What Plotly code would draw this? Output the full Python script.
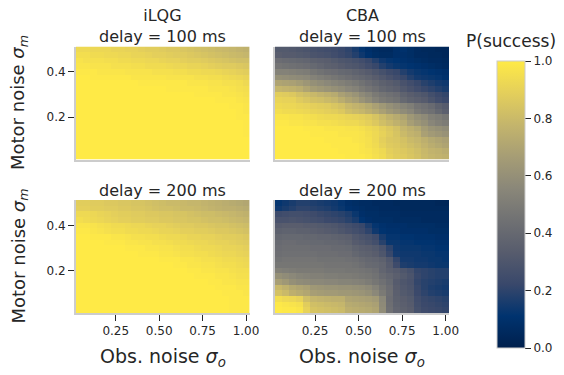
import numpy as np
import plotly.graph_objects as go

# ---------------- data (P(success), rows listed from top: motor noise 0.5 -> 0.025) ----------------
obs_noise = np.round(np.arange(1, 26) * 0.04, 3)          # 25 columns, 0.04 .. 1.00
motor_noise = np.round(np.arange(20, 0, -1) * 0.025, 4)   # 20 rows, 0.500 .. 0.025 (top -> bottom)

ilqg_100 = [
    [93, 93, 92, 92, 92, 91, 91, 90, 90, 89, 88, 88, 87, 86, 86, 85, 84, 83, 82, 81, 80, 79, 78, 77, 76],
    [95, 95, 94, 94, 93, 93, 92, 92, 91, 91, 90, 89, 89, 88, 87, 87, 86, 85, 84, 83, 82, 81, 80, 79, 78],
    [97, 96, 96, 96, 95, 95, 94, 94, 93, 93, 92, 92, 91, 90, 90, 89, 88, 88, 87, 86, 85, 84, 83, 82, 82],
    [98, 98, 97, 97, 97, 96, 96, 96, 95, 95, 94, 94, 94, 93, 92, 92, 91, 91, 90, 89, 88, 87, 87, 86, 85],
    [99, 99, 99, 98, 98, 98, 98, 97, 97, 97, 97, 96, 96, 96, 95, 95, 94, 94, 93, 93, 92, 91, 90, 89, 88],
    [100, 100, 99, 99, 99, 99, 99, 99, 98, 98, 98, 98, 98, 97, 97, 97, 97, 96, 96, 95, 95, 94, 93, 92, 91],
    [100, 100, 100, 100, 100, 100, 100, 100, 100, 99, 99, 99, 99, 99, 99, 99, 98, 98, 98, 97, 97, 96, 96, 95, 93],
    [100, 100, 100, 100, 100, 100, 100, 100, 100, 100, 100, 100, 100, 99, 99, 99, 99, 99, 99, 98, 98, 98, 97, 96, 95],
    [100, 100, 100, 100, 100, 100, 100, 100, 100, 100, 100, 100, 100, 100, 100, 100, 100, 99, 99, 99, 99, 98, 98, 97, 96],
    [100, 100, 100, 100, 100, 100, 100, 100, 100, 100, 100, 100, 100, 100, 100, 100, 100, 100, 100, 100, 99, 99, 99, 98, 97],
    [100, 100, 100, 100, 100, 100, 100, 100, 100, 100, 100, 100, 100, 100, 100, 100, 100, 100, 100, 100, 100, 100, 99, 99, 98],
    [100, 100, 100, 100, 100, 100, 100, 100, 100, 100, 100, 100, 100, 100, 100, 100, 100, 100, 100, 100, 100, 100, 100, 99, 98],
    [100, 100, 100, 100, 100, 100, 100, 100, 100, 100, 100, 100, 100, 100, 100, 100, 100, 100, 100, 100, 100, 100, 100, 99, 99],
    [100, 100, 100, 100, 100, 100, 100, 100, 100, 100, 100, 100, 100, 100, 100, 100, 100, 100, 100, 100, 100, 100, 100, 100, 99],
    [100, 100, 100, 100, 100, 100, 100, 100, 100, 100, 100, 100, 100, 100, 100, 100, 100, 100, 100, 100, 100, 100, 100, 100, 99],
    [100, 100, 100, 100, 100, 100, 100, 100, 100, 100, 100, 100, 100, 100, 100, 100, 100, 100, 100, 100, 100, 100, 100, 100, 99],
    [100, 100, 100, 100, 100, 100, 100, 100, 100, 100, 100, 100, 100, 100, 100, 100, 100, 100, 100, 100, 100, 100, 100, 100, 100],
    [100, 100, 100, 100, 100, 100, 100, 100, 100, 100, 100, 100, 100, 100, 100, 100, 100, 100, 100, 100, 100, 100, 100, 100, 100],
    [100, 100, 100, 100, 100, 100, 100, 100, 100, 100, 100, 100, 100, 100, 100, 100, 100, 100, 100, 100, 100, 100, 100, 100, 100],
    [100, 100, 100, 100, 100, 100, 100, 100, 100, 100, 100, 100, 100, 100, 100, 100, 100, 100, 100, 100, 100, 100, 100, 100, 100],
]

cba_100 = [
    [32, 32, 31, 30, 29, 27, 26, 25, 24, 22, 20, 16, 12, 9, 7, 6, 6, 9, 10, 8, 6, 5, 5, 4, 4],
    [34, 33, 33, 32, 31, 29, 28, 27, 25, 23, 21, 18, 14, 10, 8, 7, 7, 9, 9, 8, 6, 6, 5, 5, 4],
    [42, 41, 40, 39, 38, 36, 35, 34, 32, 30, 29, 27, 25, 22, 18, 14, 12, 11, 10, 9, 8, 7, 6, 6, 5],
    [46, 45, 44, 43, 42, 40, 38, 36, 35, 33, 31, 30, 28, 25, 22, 18, 15, 13, 12, 11, 10, 9, 8, 7, 6],
    [53, 53, 52, 51, 50, 47, 45, 43, 42, 40, 39, 37, 35, 33, 30, 27, 24, 22, 18, 15, 13, 12, 11, 10, 9],
    [60, 59, 58, 57, 56, 53, 51, 49, 47, 45, 43, 41, 39, 37, 34, 31, 28, 25, 22, 18, 15, 14, 13, 12, 10],
    [70, 69, 68, 66, 63, 60, 58, 56, 54, 52, 50, 48, 45, 42, 39, 36, 34, 32, 28, 25, 22, 19, 17, 15, 14],
    [78, 77, 76, 74, 70, 66, 64, 62, 60, 58, 55, 53, 49, 46, 43, 39, 37, 35, 31, 28, 25, 22, 20, 18, 16],
    [88, 87, 86, 83, 81, 79, 77, 75, 73, 68, 65, 62, 57, 54, 49, 46, 44, 42, 37, 34, 32, 30, 26, 23, 21],
    [91, 90, 90, 87, 85, 83, 82, 80, 78, 74, 70, 67, 62, 58, 53, 49, 47, 45, 40, 37, 35, 33, 29, 25, 23],
    [93, 92, 92, 91, 90, 89, 88, 87, 85, 83, 79, 77, 75, 72, 68, 64, 60, 57, 54, 51, 46, 44, 41, 36, 33],
    [95, 94, 94, 93, 92, 91, 90, 89, 88, 86, 82, 80, 78, 75, 72, 68, 64, 61, 58, 55, 49, 46, 44, 39, 35],
    [98, 98, 97, 97, 96, 95, 94, 93, 93, 92, 91, 90, 89, 87, 84, 80, 76, 73, 70, 64, 60, 57, 52, 50, 47],
    [99, 99, 98, 98, 97, 97, 96, 96, 95, 94, 93, 93, 91, 89, 86, 82, 79, 76, 73, 67, 63, 60, 55, 52, 50],
    [100, 100, 100, 100, 99, 99, 99, 98, 98, 98, 97, 97, 96, 94, 92, 89, 86, 83, 78, 75, 72, 66, 62, 60, 58],
    [100, 100, 100, 100, 100, 99, 99, 99, 99, 98, 98, 98, 97, 95, 93, 90, 87, 84, 80, 77, 75, 68, 65, 63, 61],
    [100, 100, 100, 100, 100, 100, 100, 99, 99, 99, 99, 98, 97, 96, 93, 89, 86, 85, 83, 80, 78, 75, 72, 70, 68],
    [100, 100, 100, 100, 100, 100, 100, 100, 99, 99, 99, 99, 98, 96, 94, 90, 87, 86, 84, 82, 80, 77, 74, 72, 70],
    [100, 100, 100, 100, 100, 100, 100, 100, 100, 99, 99, 99, 98, 97, 95, 93, 89, 87, 86, 84, 82, 79, 77, 76, 74],
    [100, 100, 100, 100, 100, 100, 100, 100, 100, 100, 99, 99, 99, 98, 96, 94, 90, 88, 87, 85, 83, 80, 78, 77, 76],
]

ilqg_200 = [
    [88, 88, 87, 87, 86, 86, 85, 85, 84, 84, 83, 82, 81, 80, 80, 79, 78, 78, 77, 76, 75, 74, 73, 72, 71],
    [89, 89, 88, 88, 87, 87, 86, 86, 85, 85, 84, 83, 82, 82, 81, 80, 80, 79, 78, 77, 76, 75, 75, 74, 73],
    [93, 93, 92, 91, 90, 89, 88, 88, 87, 87, 86, 86, 85, 85, 84, 84, 83, 82, 81, 81, 80, 79, 78, 77, 76],
    [95, 94, 93, 92, 91, 90, 89, 89, 88, 88, 87, 87, 86, 86, 85, 85, 84, 84, 83, 82, 82, 81, 80, 79, 78],
    [98, 98, 97, 96, 95, 94, 94, 93, 92, 92, 91, 90, 90, 89, 88, 87, 87, 86, 86, 85, 84, 84, 83, 82, 81],
    [99, 99, 98, 97, 96, 95, 95, 94, 94, 93, 93, 92, 91, 91, 90, 89, 89, 88, 88, 87, 86, 86, 85, 84, 83],
    [100, 100, 99, 99, 99, 98, 98, 97, 96, 96, 95, 95, 94, 93, 93, 92, 91, 91, 90, 90, 89, 88, 88, 87, 86],
    [100, 100, 100, 100, 99, 99, 99, 98, 98, 97, 97, 96, 96, 95, 94, 94, 93, 92, 92, 91, 90, 90, 89, 88, 87],
    [100, 100, 100, 100, 100, 100, 100, 99, 99, 99, 98, 98, 97, 97, 96, 95, 95, 94, 93, 93, 92, 91, 91, 90, 89],
    [100, 100, 100, 100, 100, 100, 100, 100, 100, 99, 99, 99, 98, 98, 97, 96, 96, 95, 95, 94, 93, 92, 92, 91, 90],
    [100, 100, 100, 100, 100, 100, 100, 100, 100, 100, 100, 100, 99, 99, 99, 98, 98, 97, 96, 96, 95, 94, 94, 93, 92],
    [100, 100, 100, 100, 100, 100, 100, 100, 100, 100, 100, 100, 100, 100, 99, 99, 98, 98, 97, 97, 96, 95, 95, 94, 93],
    [100, 100, 100, 100, 100, 100, 100, 100, 100, 100, 100, 100, 100, 100, 100, 100, 99, 99, 98, 98, 97, 97, 96, 95, 95],
    [100, 100, 100, 100, 100, 100, 100, 100, 100, 100, 100, 100, 100, 100, 100, 100, 100, 99, 99, 99, 98, 98, 97, 96, 96],
    [100, 100, 100, 100, 100, 100, 100, 100, 100, 100, 100, 100, 100, 100, 100, 100, 100, 100, 100, 99, 99, 98, 98, 97, 97],
    [100, 100, 100, 100, 100, 100, 100, 100, 100, 100, 100, 100, 100, 100, 100, 100, 100, 100, 100, 100, 99, 99, 99, 98, 98],
    [100, 100, 100, 100, 100, 100, 100, 100, 100, 100, 100, 100, 100, 100, 100, 100, 100, 100, 100, 100, 100, 99, 99, 99, 98],
    [100, 100, 100, 100, 100, 100, 100, 100, 100, 100, 100, 100, 100, 100, 100, 100, 100, 100, 100, 100, 100, 100, 99, 99, 99],
    [100, 100, 100, 100, 100, 100, 100, 100, 100, 100, 100, 100, 100, 100, 100, 100, 100, 100, 100, 100, 100, 100, 99, 99, 99],
    [100, 100, 100, 100, 100, 100, 100, 100, 100, 100, 100, 100, 100, 100, 100, 100, 100, 100, 100, 100, 100, 100, 99, 99, 99],
]

cba_200 = [
    [12, 14, 16, 18, 18, 17, 16, 15, 14, 12, 9, 8, 7, 7, 6, 6, 6, 5, 5, 5, 5, 5, 5, 4, 4],
    [14, 16, 18, 20, 20, 19, 18, 17, 15, 13, 10, 9, 8, 7, 7, 6, 6, 6, 5, 5, 5, 5, 5, 5, 5],
    [24, 25, 26, 26, 25, 24, 22, 21, 20, 19, 17, 13, 9, 8, 8, 7, 7, 7, 6, 6, 6, 6, 6, 6, 6],
    [28, 28, 29, 28, 27, 26, 25, 23, 22, 21, 19, 16, 11, 9, 8, 8, 8, 7, 7, 7, 7, 6, 6, 6, 6],
    [33, 34, 34, 34, 33, 33, 32, 31, 30, 28, 26, 24, 22, 17, 12, 10, 9, 9, 9, 8, 8, 8, 8, 7, 7],
    [36, 37, 37, 36, 36, 35, 34, 33, 32, 30, 28, 26, 24, 20, 14, 11, 10, 10, 9, 9, 9, 9, 8, 8, 8],
    [39, 40, 40, 40, 39, 39, 38, 38, 37, 36, 35, 31, 29, 27, 24, 16, 12, 12, 11, 11, 10, 10, 10, 9, 9],
    [41, 42, 42, 41, 41, 40, 40, 39, 39, 38, 37, 33, 31, 29, 26, 19, 13, 13, 12, 12, 11, 11, 11, 10, 10],
    [42, 43, 43, 43, 43, 42, 42, 42, 41, 41, 40, 37, 35, 34, 32, 28, 20, 14, 13, 13, 13, 12, 12, 11, 11],
    [43, 44, 44, 44, 44, 44, 43, 43, 43, 42, 42, 39, 37, 36, 34, 30, 22, 15, 14, 14, 14, 13, 13, 12, 12],
    [45, 46, 46, 46, 46, 46, 45, 45, 45, 45, 44, 43, 41, 39, 38, 36, 31, 21, 15, 15, 14, 14, 13, 13, 12],
    [47, 47, 47, 47, 47, 47, 47, 46, 46, 46, 46, 45, 43, 41, 40, 38, 33, 24, 17, 16, 15, 15, 14, 13, 13],
    [52, 51, 50, 49, 49, 49, 49, 48, 48, 48, 47, 47, 46, 45, 43, 38, 35, 33, 30, 27, 21, 20, 19, 18, 18],
    [60, 58, 56, 54, 53, 52, 52, 51, 51, 50, 50, 49, 48, 47, 45, 41, 38, 35, 32, 29, 22, 20, 19, 18, 18],
    [67, 64, 60, 58, 57, 56, 56, 55, 55, 54, 54, 53, 52, 50, 47, 44, 40, 33, 30, 28, 21, 19, 18, 17, 16],
    [79, 76, 72, 70, 68, 64, 63, 62, 62, 61, 61, 60, 59, 57, 53, 47, 42, 34, 31, 29, 22, 19, 17, 16, 15],
    [83, 80, 75, 73, 71, 67, 66, 65, 65, 64, 64, 63, 62, 60, 56, 49, 43, 35, 32, 30, 23, 20, 18, 17, 16],
    [95, 93, 92, 90, 82, 78, 77, 76, 75, 75, 70, 69, 68, 67, 65, 56, 42, 36, 34, 32, 25, 22, 21, 20, 19],
    [99, 98, 97, 96, 88, 82, 81, 80, 79, 78, 73, 72, 71, 70, 68, 57, 43, 37, 35, 33, 26, 23, 22, 21, 20],
    [100, 99, 99, 98, 90, 84, 83, 82, 81, 80, 75, 74, 73, 72, 70, 58, 44, 38, 36, 34, 27, 24, 23, 22, 21],
]

panel_titles = ["iLQG<br>delay = 100 ms", "CBA<br>delay = 100 ms", "delay = 200 ms", "delay = 200 ms"]
x_ticks = [0.25, 0.50, 0.75, 1.00]
x_tick_labels = ["0.25", "0.50", "0.75", "1.00"]
y_ticks = [0.2, 0.4]
y_tick_labels = ["0.2", "0.4"]
cbar_ticks = [0.0, 0.2, 0.4, 0.6, 0.8, 1.0]

# matplotlib "cividis"
cividis = ["#00204D", "#00336F", "#39486B", "#575C6D", "#707173",
           "#8A8779", "#A69D75", "#C4B56C", "#E4CF5B", "#FFEA46"]
colorscale = [[i / (len(cividis) - 1), c] for i, c in enumerate(cividis)]

# ---------------- layout helpers (pixel -> paper, margins are zero) ----------------
W, H = 564, 375
FONT = "DejaVu Sans"
TXT = "#262626"
SPINE = "#cccccc"


def px(x):
    return x / W


def py(y):
    return 1 - y / H


col_px = [(75.8, 249.5), (275.0, 449.2)]
row_px = [(46.5, 159.5), (200.0, 313.0)]
cb_top, cb_bot = 61, 348

fig = go.Figure()
panels = [ilqg_100, cba_100, ilqg_200, cba_200]
for i, z in enumerate(panels):
    r, c = divmod(i, 2)
    n = i + 1
    xa = "x" if n == 1 else f"x{n}"
    ya = "y" if n == 1 else f"y{n}"
    fig.add_trace(go.Heatmap(
        x=obs_noise, y=motor_noise, z=np.array(z) / 100.0,
        zmin=0, zmax=1, colorscale=colorscale,
        showscale=(i == 0), xaxis=xa, yaxis=ya,
        colorbar=dict(
            x=px(497), xanchor="left", xpad=0,
            y=py((cb_top + cb_bot) / 2), yanchor="middle", ypad=0,
            len=(cb_bot - cb_top) / H, lenmode="fraction",
            thickness=28, thicknessmode="pixels",
            outlinecolor=SPINE, outlinewidth=1,
            tickmode="array", tickvals=cbar_ticks, ticktext=[f"{v:.1f}" for v in cbar_ticks],
            ticks="outside", ticklen=6, tickwidth=1.25, tickcolor=TXT,
            tickfont=dict(family=FONT, size=12, color=TXT),
        ) if i == 0 else None,
    ))
    xkey = "xaxis" if n == 1 else f"xaxis{n}"
    ykey = "yaxis" if n == 1 else f"yaxis{n}"
    fig.layout[xkey] = dict(
        domain=[px(col_px[c][0]), px(col_px[c][1])], anchor=ya,
        range=[0.02, 1.02], showgrid=False, zeroline=False,
        showline=True, linecolor=SPINE, linewidth=1.5,
        tickmode="array", tickvals=x_ticks, ticktext=x_tick_labels,
        ticks="outside" if r == 1 else "", ticklen=6, tickwidth=1.25, tickcolor=TXT,
        showticklabels=(r == 1), tickfont=dict(family=FONT, size=12, color=TXT),
        automargin=False,
    )
    fig.layout[ykey] = dict(
        domain=[py(row_px[r][1]), py(row_px[r][0])], anchor=xa,
        range=[0.0125, 0.5125], showgrid=False, zeroline=False,
        showline=True, linecolor=SPINE, linewidth=1.5,
        tickmode="array", tickvals=y_ticks, ticktext=y_tick_labels,
        ticks="outside" if c == 0 else "", ticklen=6, tickwidth=1.25, tickcolor=TXT,
        showticklabels=(c == 0), tickfont=dict(family=FONT, size=12, color=TXT),
        automargin=False,
    )

ann = []
title_font = dict(family=FONT, size=16, color=TXT)
label_font = dict(family=FONT, size=18, color=TXT)
# panel titles
for i, t in enumerate(panel_titles):
    r, c = divmod(i, 2)
    cx = (col_px[c][0] + col_px[c][1]) / 2
    ann.append(dict(text=t, x=px(cx), y=py(row_px[r][0] + 2), xref="paper", yref="paper",
                    xanchor="center", yanchor="bottom", showarrow=False, font=title_font))
# axis titles
for c in range(2):
    cx = (col_px[c][0] + col_px[c][1]) / 2
    ann.append(dict(text="Obs. noise <i>σ<sub>o</sub></i>", x=px(cx), y=py(357), xref="paper", yref="paper",
                    xanchor="center", yanchor="middle", showarrow=False, font=dict(family=FONT, size=19, color=TXT)))
for r in range(2):
    cy = (row_px[r][0] + row_px[r][1]) / 2
    ann.append(dict(text="Motor noise <i>σ<sub>m</sub></i>", x=px(19), y=py(cy), xref="paper", yref="paper",
                    xanchor="center", yanchor="middle", textangle=-90, showarrow=False, font=label_font))
# colorbar title
ann.append(dict(text="P(success)", x=px(511), y=py(41), xref="paper", yref="paper",
                xanchor="center", yanchor="middle", showarrow=False, font=dict(family=FONT, size=17, color=TXT)))

fig.update_layout(
    width=W, height=H, margin=dict(l=0, r=0, t=0, b=0),
    paper_bgcolor="white", plot_bgcolor="white",
    annotations=ann, showlegend=False,
    font=dict(family=FONT, color=TXT),
)

fig.write_html("out.html", config={"displayModeBar": False},
               post_script="document.body.style.margin='0px';")
